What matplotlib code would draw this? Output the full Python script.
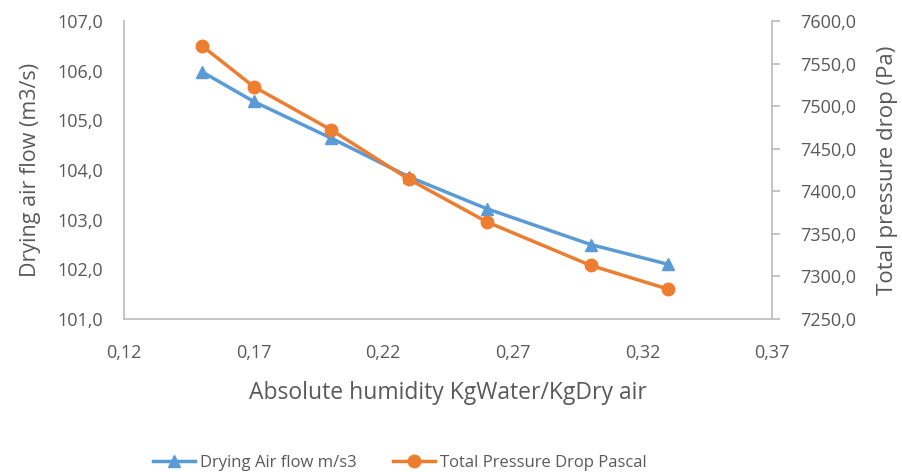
import matplotlib.pyplot as plt
from matplotlib.ticker import FuncFormatter, MultipleLocator

humidity = [0.15, 0.17, 0.20, 0.23, 0.26, 0.30, 0.33]
air_flow = [105.98, 105.38, 104.64, 103.86, 103.22, 102.50, 102.10]
pressure_drop = [7571, 7523, 7472, 7414, 7364, 7313, 7285]
x_ticks = [0.12, 0.17, 0.22, 0.27, 0.32, 0.37]

plt.rcParams['font.family'] = ['Open Sans', 'DejaVu Sans']
GREY = '#595959'
SPINE = '#bfbfbf'
BLUE = '#5b9bd5'
ORANGE = '#ed7d31'

comma2 = FuncFormatter(lambda v, p: ('%.2f' % v).replace('.', ','))
comma1 = FuncFormatter(lambda v, p: ('%.1f' % v).replace('.', ','))

fig = plt.figure(figsize=(9.02, 4.72), dpi=100)
ax = fig.add_axes([124 / 902, 1 - 319 / 472, (772 - 124) / 902, (319 - 21) / 472])
ax2 = ax.twinx()

l1, = ax.plot(humidity, air_flow, color=BLUE, lw=2.5, marker='^', ms=9,
              label='Drying Air flow m/s3')
l2, = ax2.plot(humidity, pressure_drop, color=ORANGE, lw=2.5, marker='o', ms=9,
               label='Total Pressure Drop Pascal')

ax.set_xlim(0.12, 0.37)
ax.set_xticks(x_ticks)
ax.xaxis.set_major_formatter(comma2)
ax.set_ylim(101, 107)
ax.yaxis.set_major_locator(MultipleLocator(1))
ax.yaxis.set_major_formatter(comma1)
ax2.set_ylim(7250, 7600)
ax2.yaxis.set_major_locator(MultipleLocator(50))
ax2.yaxis.set_major_formatter(comma1)

for a in (ax, ax2):
    a.spines['top'].set_visible(False)
    for s in ('left', 'right', 'bottom'):
        a.spines[s].set_color(SPINE)
        a.spines[s].set_linewidth(1.3)
ax.spines['right'].set_visible(False)
ax2.spines['left'].set_visible(False)
ax2.spines['bottom'].set_visible(False)

ax.tick_params(axis='x', length=0, labelsize=13, colors=GREY, pad=18)
ax.tick_params(axis='y', length=0, labelsize=13, colors=GREY, pad=15)
ax2.tick_params(axis='y', length=6, width=1.3, color=SPINE, labelsize=13,
                labelcolor=GREY, pad=14)

ax.set_xlabel('Absolute humidity KgWater/KgDry air', fontsize=16.5, color=GREY, labelpad=14)
ax.set_ylabel('Drying air flow (m3/s)', fontsize=15.5, color=GREY, labelpad=12)
ax2.set_ylabel('Total pressure drop (Pa)', fontsize=16, color=GREY, labelpad=15)

fig.legend(handles=[l1, l2], loc='center', bbox_to_anchor=(0.443, 0.02), ncol=2,
           frameon=False, fontsize=12, labelcolor=GREY, handlelength=2.5,
           columnspacing=2.2, handletextpad=0.3)

fig.savefig('out.png', dpi=100)
